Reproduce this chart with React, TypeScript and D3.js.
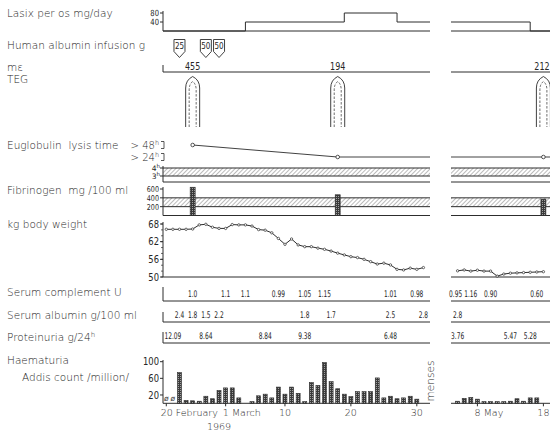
import React, { useEffect, useRef } from 'react';
import * as d3 from 'd3';

// day of year 1969 (Feb 20 = 51, Mar 1 = 60, May 8 = 128)
const segDomains: [number, number][] = [[50.5, 91], [124, 139]];

const lasixDays1 = [50.5, 63, 78, 86, 91];
const lasixDose1 = [0, 40, 80, 40, 40];
const lasixDays2 = [124, 136, 139];
const lasixDose2 = [40, 0, 0];

const infusionDays = [53, 57, 59];
const infusionGrams = [25, 50, 50];

const tegDays = [55, 77, 138];
const meValues = [455, 194, 212];

const eltDays = [55, 77, 138];
const eltHours = [48, 24, 24];

const fibrinogenDays = [55, 77, 138];
const fibrinogenMg = [640, 470, 370];

const weightStart1 = 51;
const weightKg1 = [66.2, 66.2, 66.2, 66.2, 66.3, 67.7, 67.9, 66.9, 66.5, 66.5, 67.8, 67.7, 67.7, 67.3, 66.1, 65.9, 65.0, 63.1, 61.1, 62.9,
  60.9, 60.3, 60.3, 59.8, 59.4, 58.8, 58.1, 57.5, 56.9, 56.6, 56.0, 55.2, 54.4, 54.7, 54.1, 52.6, 52.4, 53.0, 52.6, 53.2];
const weightStart2 = 125;
const weightKg2 = [52.1, 52.4, 52.0, 52.3, 52.0, 52.0, 50.3, 51.0, 51.3, 51.4, 51.5, 51.6, 51.7, 51.8];

const complementDays = [55, 60, 63, 68, 72, 75, 85, 89, 124.7, 127, 130, 137];
const complementValues = ['1.0', '1.1', '1.1', '0.99', '1.05', '1.15', '1.01', '0.98', '0.95', '1.16', '0.90', '0.60'];
const serumAlbuminDays = [53, 55, 57, 59, 72, 76, 85, 90, 125];
const serumAlbuminValues = ['2.4', '1.8', '1.5', '2.2', '1.8', '1.7', '2.5', '2.8', '2.8'];
const proteinuriaDays = [52, 57, 66, 72, 85, 125, 133, 136];
const proteinuriaValues = ['12.09', '8.64', '8.84', '9.38', '6.48', '3.76', '5.47', '5.28'];

// Addis count, null = no sample, 0 = drawn as ø
const haemStart1 = 51;
const haemCount1 = [0, 0, 74, 7, 6, 5, 17, 11, 31, 37, 37, 13, null, 4, 18, 22, 13, 39, 22, 39, 24, 4, 50, 43, 98, 52, 35, 22, 16, 28,
  28, 28, 61, 13, 17, 11, 13, 17, 10];
const haemStart2 = 125;
const haemCount2 = [5, 12, 14, 10, 4, 4, 4, 4, 5, 11, 5, 13, 13];

const dateTickDays = [51, 60, 69, 79, 89, 128, 138];
const dateTickLabels = ['20', '1', '10', '20', '30', '8', '18'];
const dateTickMonths = ['February', 'March', '', '', '', 'May', ''];

export default function App() {
  const ref = useRef<SVGSVGElement>(null);

  useEffect(() => {
    if (!ref.current) return;
    const svg = d3.select(ref.current);
    svg.selectAll('*').remove();

    const W = 550;
    const ink = '#2d2d2d';
    const txt = '#262626';
    const labelFont = "'DejaVu Sans', sans-serif";
    const numFont = "'DejaVu Sans', sans-serif";

    const segRanges: [number, number][] = [[163, 430], [451, 550]];
    const xs = segDomains.map((d, i) => d3.scaleLinear().domain(d).range(segRanges[i]));
    const segOf = (d: number) => (d < 100 ? 0 : 1);
    const X = (d: number) => xs[segOf(d)](d);

    const yLasix = d3.scaleLinear().domain([0, 80]).range([31, 13]);
    const yElt = d3.scaleLinear().domain([0, 3, 4, 24, 48]).range([182, 176, 168, 157, 145]);
    const yFib = d3.scaleLinear().domain([0, 600]).range([215.5, 189]);
    const yW = d3.scaleLinear().domain([50, 68]).range([277, 224]);
    const yH = d3.scaleLinear().domain([0, 100]).range([403.3, 361.7]);

    const defs = svg.append('defs');
    const hatch = defs.append('pattern').attr('id', 'hatch').attr('patternUnits', 'userSpaceOnUse')
      .attr('width', 3).attr('height', 3).attr('patternTransform', 'rotate(45)');
    hatch.append('line').attr('x1', 0).attr('y1', 0).attr('x2', 0).attr('y2', 3)
      .attr('stroke', '#555').attr('stroke-width', 0.8);
    const stip = defs.append('pattern').attr('id', 'stipple').attr('patternUnits', 'userSpaceOnUse')
      .attr('width', 2).attr('height', 2);
    stip.append('rect').attr('width', 2).attr('height', 2).attr('fill', '#3a3a3a');
    stip.append('rect').attr('width', 1).attr('height', 1).attr('fill', '#a0a0a0');

    // condensed numbers: squeeze horizontally around the anchor point
    const num = (x: number, y: number, s: string | number, size: number, anchor = 'middle', squeeze = 0.8) =>
      svg.append('g').attr('transform', `translate(${x},${y})`)
        .append('text').attr('transform', `scale(${squeeze},1)`).attr('text-anchor', anchor)
        .attr('font-family', numFont).attr('font-size', size).attr('fill', txt).text(s);

    // row labels
    const labels: [string, number, number][] = [
      ['Lasix per os mg/day', 7, 17],
      ['Human albumin infusion g', 7, 49],
      ['mε', 7, 71],
      ['TEG', 7, 83],
      ['Euglobulin  lysis time', 7, 149],
      ['Fibrinogen  mg /100 ml', 7, 194],
      ['kg body weight', 7, 228],
      ['Serum complement U', 7, 296],
      ['Serum albumin g/100 ml', 7, 319],
      ['Haematuria', 7, 364],
      ['Addis count /million/', 22, 381],
    ];
    svg.append('g').selectAll('text').data(labels).enter().append('text')
      .attr('x', d => d[1]).attr('y', d => d[2])
      .attr('font-family', labelFont).attr('font-size', 10.5).attr('font-weight', 300).attr('fill', txt)
      .style('white-space', 'pre')
      .text(d => d[0]);
    const prot = svg.append('text').attr('x', 7).attr('y', 341).attr('font-family', labelFont)
      .attr('font-size', 10.5).attr('font-weight', 300).attr('fill', txt);
    prot.append('tspan').text('Proteinuria g/24');
    prot.append('tspan').attr('font-size', 7).attr('dy', -4).text('h');

    const hline = (y: number, i: number) => svg.append('line')
      .attr('x1', segRanges[i][0]).attr('x2', segRanges[i][1]).attr('y1', y).attr('y2', y)
      .attr('stroke', ink).attr('stroke-width', 1);
    const vline = (x: number, y1: number, y2: number) => svg.append('line')
      .attr('x1', x).attr('x2', x).attr('y1', y1).attr('y2', y2).attr('stroke', ink).attr('stroke-width', 1);
    const leftTick = (y: number, label: string, size = 9.5) => {
      svg.append('line').attr('x1', 160).attr('x2', 163).attr('y1', y).attr('y2', y).attr('stroke', ink);
      num(159, y + size * 0.36, label, size, 'end');
    };

    // Lasix
    vline(163, 11, 31);
    [80, 40].forEach(v => leftTick(yLasix(v), String(v), 8.5));
    [0, 1].forEach(i => hline(yLasix(0), i));
    const lasixSegs = [lasixDays1.map((d, i) => [d, lasixDose1[i]]), lasixDays2.map((d, i) => [d, lasixDose2[i]])];
    lasixSegs.forEach((pts, i) => {
      const line = d3.line<number[]>().x(p => xs[i](p[0])).y(p => yLasix(p[1])).curve(d3.curveStepAfter);
      svg.append('path').attr('d', line(pts as number[][]) || '').attr('fill', 'none').attr('stroke', ink);
    });

    // albumin infusions
    infusionDays.forEach((d, i) => {
      const x = X(d);
      svg.append('path').attr('d', `M${x - 5.5},39.5 h11 v12 l-5.5,6 l-5.5,-6 z`)
        .attr('fill', 'white').attr('stroke', ink).attr('stroke-width', 0.9);
      num(x, 48.8, infusionGrams[i], 9);
    });

    // m-epsilon line and TEG marks
    vline(163, 65, 72);
    [0, 1].forEach(i => hline(72, i));
    tegDays.forEach((d, i) => {
      const x = X(d);
      num(Math.min(x, W - 8), 69.5, meValues[i], 10);
      svg.append('path').attr('d', `M${x - 7},127 V88 Q${x - 7},80 ${x},76.5 Q${x + 7},80 ${x + 7},88 V127`)
        .attr('fill', 'none').attr('stroke', ink).attr('stroke-width', 0.9);
      svg.append('path').attr('d', `M${x - 3.5},127 V90 Q${x - 3.5},84 ${x},81.5 Q${x + 3.5},84 ${x + 3.5},90 V127`)
        .attr('fill', 'none').attr('stroke', ink).attr('stroke-width', 0.7).attr('stroke-dasharray', '2.5,1.5');
    });

    // Euglobulin lysis time
    [48, 24].forEach(h => {
      const y = yElt(h);
      svg.append('path').attr('d', `M161,${y - 3.5} H164 V${y + 3.5} H161`).attr('fill', 'none').attr('stroke', ink).attr('stroke-width', 0.8);
      const t = svg.append('text').attr('x', 159).attr('y', y + 3.5).attr('text-anchor', 'end')
        .attr('font-family', numFont).attr('font-size', 10).attr('font-weight', 300).attr('fill', txt);
      t.append('tspan').text(`> ${h}`);
      t.append('tspan').attr('font-size', 6.5).attr('dy', -4).text('h');
    });
    vline(163, 166, 182);
    [4, 3].forEach(h => {
      const y = yElt(h);
      svg.append('line').attr('x1', 160).attr('x2', 163).attr('y1', y).attr('y2', y).attr('stroke', ink);
      const t = svg.append('text').attr('x', 160).attr('y', y + 2.5).attr('text-anchor', 'end')
        .attr('font-family', numFont).attr('font-size', 7.5).attr('fill', txt);
      t.append('tspan').text(`${h}`);
      t.append('tspan').attr('font-size', 5.5).attr('dy', -2.5).text('h');
    });
    [0, 1].forEach(i => {
      svg.append('rect').attr('x', segRanges[i][0]).attr('width', segRanges[i][1] - segRanges[i][0])
        .attr('y', yElt(4)).attr('height', yElt(3) - yElt(4)).attr('fill', 'url(#hatch)');
      hline(yElt(4), i); hline(yElt(3), i); hline(yElt(0), i);
    });
    [0, 1].forEach(i => {
      const pts = eltDays.map((d, k) => [d, eltHours[k]]).filter(p => segOf(p[0]) === i);
      if (i > 0) pts.unshift([segDomains[i][0], pts[0][1]]);
      pts.push([segDomains[i][1], pts[pts.length - 1][1]]);
      const line = d3.line<number[]>().x(p => xs[i](p[0])).y(p => yElt(p[1]));
      svg.append('path').attr('d', line(pts) || '').attr('fill', 'none').attr('stroke', ink).attr('stroke-width', 0.9);
    });
    eltDays.forEach((d, k) => {
      svg.append('circle').attr('cx', X(d)).attr('cy', yElt(eltHours[k])).attr('r', 1.8)
        .attr('fill', 'white').attr('stroke', ink).attr('stroke-width', 0.8);
    });

    // Fibrinogen
    vline(163, 187, yFib(0));
    [600, 400, 200].forEach(v => leftTick(yFib(v), String(v), 8));
    [0, 1].forEach(i => {
      svg.append('rect').attr('x', segRanges[i][0]).attr('width', segRanges[i][1] - segRanges[i][0])
        .attr('y', yFib(400)).attr('height', yFib(200) - yFib(400)).attr('fill', 'url(#hatch)');
      hline(yFib(400), i); hline(yFib(200), i); hline(yFib(0), i);
    });
    fibrinogenDays.forEach((d, k) => {
      svg.append('rect').attr('x', X(d) - 2.5).attr('width', 5).attr('y', yFib(fibrinogenMg[k]))
        .attr('height', yFib(0) - yFib(fibrinogenMg[k])).attr('fill', 'url(#stipple)')
        .attr('stroke', ink).attr('stroke-width', 0.6);
    });

    // body weight
    vline(163, 222, yW(50));
    d3.range(50, 69, 2).forEach(v => svg.append('line').attr('x1', 161).attr('x2', 163)
      .attr('y1', yW(v)).attr('y2', yW(v)).attr('stroke', ink).attr('stroke-width', 0.7));
    [68, 62, 56, 50].forEach(v => leftTick(yW(v), String(v), 10.5));
    [0, 1].forEach(i => hline(yW(50), i));
    const wSegs = [weightKg1.map((w, k) => [weightStart1 + k, w]), weightKg2.map((w, k) => [weightStart2 + k, w])];
    wSegs.forEach((pts, i) => {
      const line = d3.line<number[]>().x(p => xs[i](p[0])).y(p => yW(p[1]));
      svg.append('path').attr('d', line(pts) || '').attr('fill', 'none').attr('stroke', ink).attr('stroke-width', 1);
      svg.append('g').selectAll('circle').data(pts).enter().append('circle')
        .attr('cx', p => xs[i](p[0])).attr('cy', p => yW(p[1])).attr('r', 1.2)
        .attr('fill', 'white').attr('stroke', ink).attr('stroke-width', 0.7);
    });

    // value rows
    const rows: { days: number[]; values: string[]; y: number; tickTop: number }[] = [
      { days: complementDays, values: complementValues, y: 301, tickTop: 287 },
      { days: serumAlbuminDays, values: serumAlbuminValues, y: 322, tickTop: 312 },
      { days: proteinuriaDays, values: proteinuriaValues, y: 343, tickTop: 332 },
    ];
    rows.forEach(r => {
      vline(163, r.tickTop, r.y);
      [0, 1].forEach(i => hline(r.y, i));
      r.days.forEach((d, k) => num(X(d), r.y - 4.5, r.values[k], 9.2, 'middle', 0.64));
    });

    // haematuria
    vline(163, 360, yH(0));
    [100, 60, 20].forEach(v => leftTick(yH(v), String(v), 10.5));
    [0, 1].forEach(i => hline(yH(0), i));
    const hSegs = [haemCount1.map((c, k) => [haemStart1 + k, c]), haemCount2.map((c, k) => [haemStart2 + k, c])];
    hSegs.forEach(pts => {
      pts.forEach(p => {
        const d = p[0] as number;
        const c = p[1];
        if (c === null) return;
        if (c === 0) {
          svg.append('text').attr('x', X(d)).attr('y', yH(0) - 2).attr('text-anchor', 'middle')
            .attr('font-family', numFont).attr('font-size', 7.5).attr('font-style', 'italic').attr('fill', '#444').text('ø');
          return;
        }
        svg.append('rect').attr('x', X(d) - 2).attr('width', 4).attr('y', yH(c)).attr('height', yH(0) - yH(c))
          .attr('fill', 'url(#stipple)').attr('stroke', ink).attr('stroke-width', 0.6);
      });
    });
    svg.append('text').attr('transform', `translate(434,381) rotate(-90)`).attr('text-anchor', 'middle')
      .attr('font-family', labelFont).attr('font-size', 10.5).attr('font-weight', 300).attr('fill', txt).text('menses');

    // date axis
    dateTickDays.forEach((d, k) => {
      const x = X(d);
      svg.append('line').attr('x1', x).attr('x2', x).attr('y1', yH(0)).attr('y2', yH(0) + 3).attr('stroke', ink);
      const lab = dateTickLabels[k];
      const month = dateTickMonths[k];
      const halfNum = lab.length * 2.8;
      svg.append('text').attr('x', month ? x - halfNum : Math.min(x, W - 6)).attr('y', 415.5)
        .attr('text-anchor', month ? 'start' : 'middle')
        .attr('font-family', labelFont).attr('font-size', 9.5).attr('font-weight', 300).attr('fill', txt)
        .text(month ? `${lab} ${month}` : lab);
    });
    svg.append('text').attr('x', X(59)).attr('y', 430).attr('text-anchor', 'middle')
      .attr('font-family', labelFont).attr('font-size', 9.5).attr('font-weight', 300).attr('fill', txt).text('1969');
  }, []);

  return (
    <svg ref={ref} width={550} height={432}
      style={{ position: 'absolute', left: 0, top: 0, background: 'white', display: 'block' }} />
  );
}
